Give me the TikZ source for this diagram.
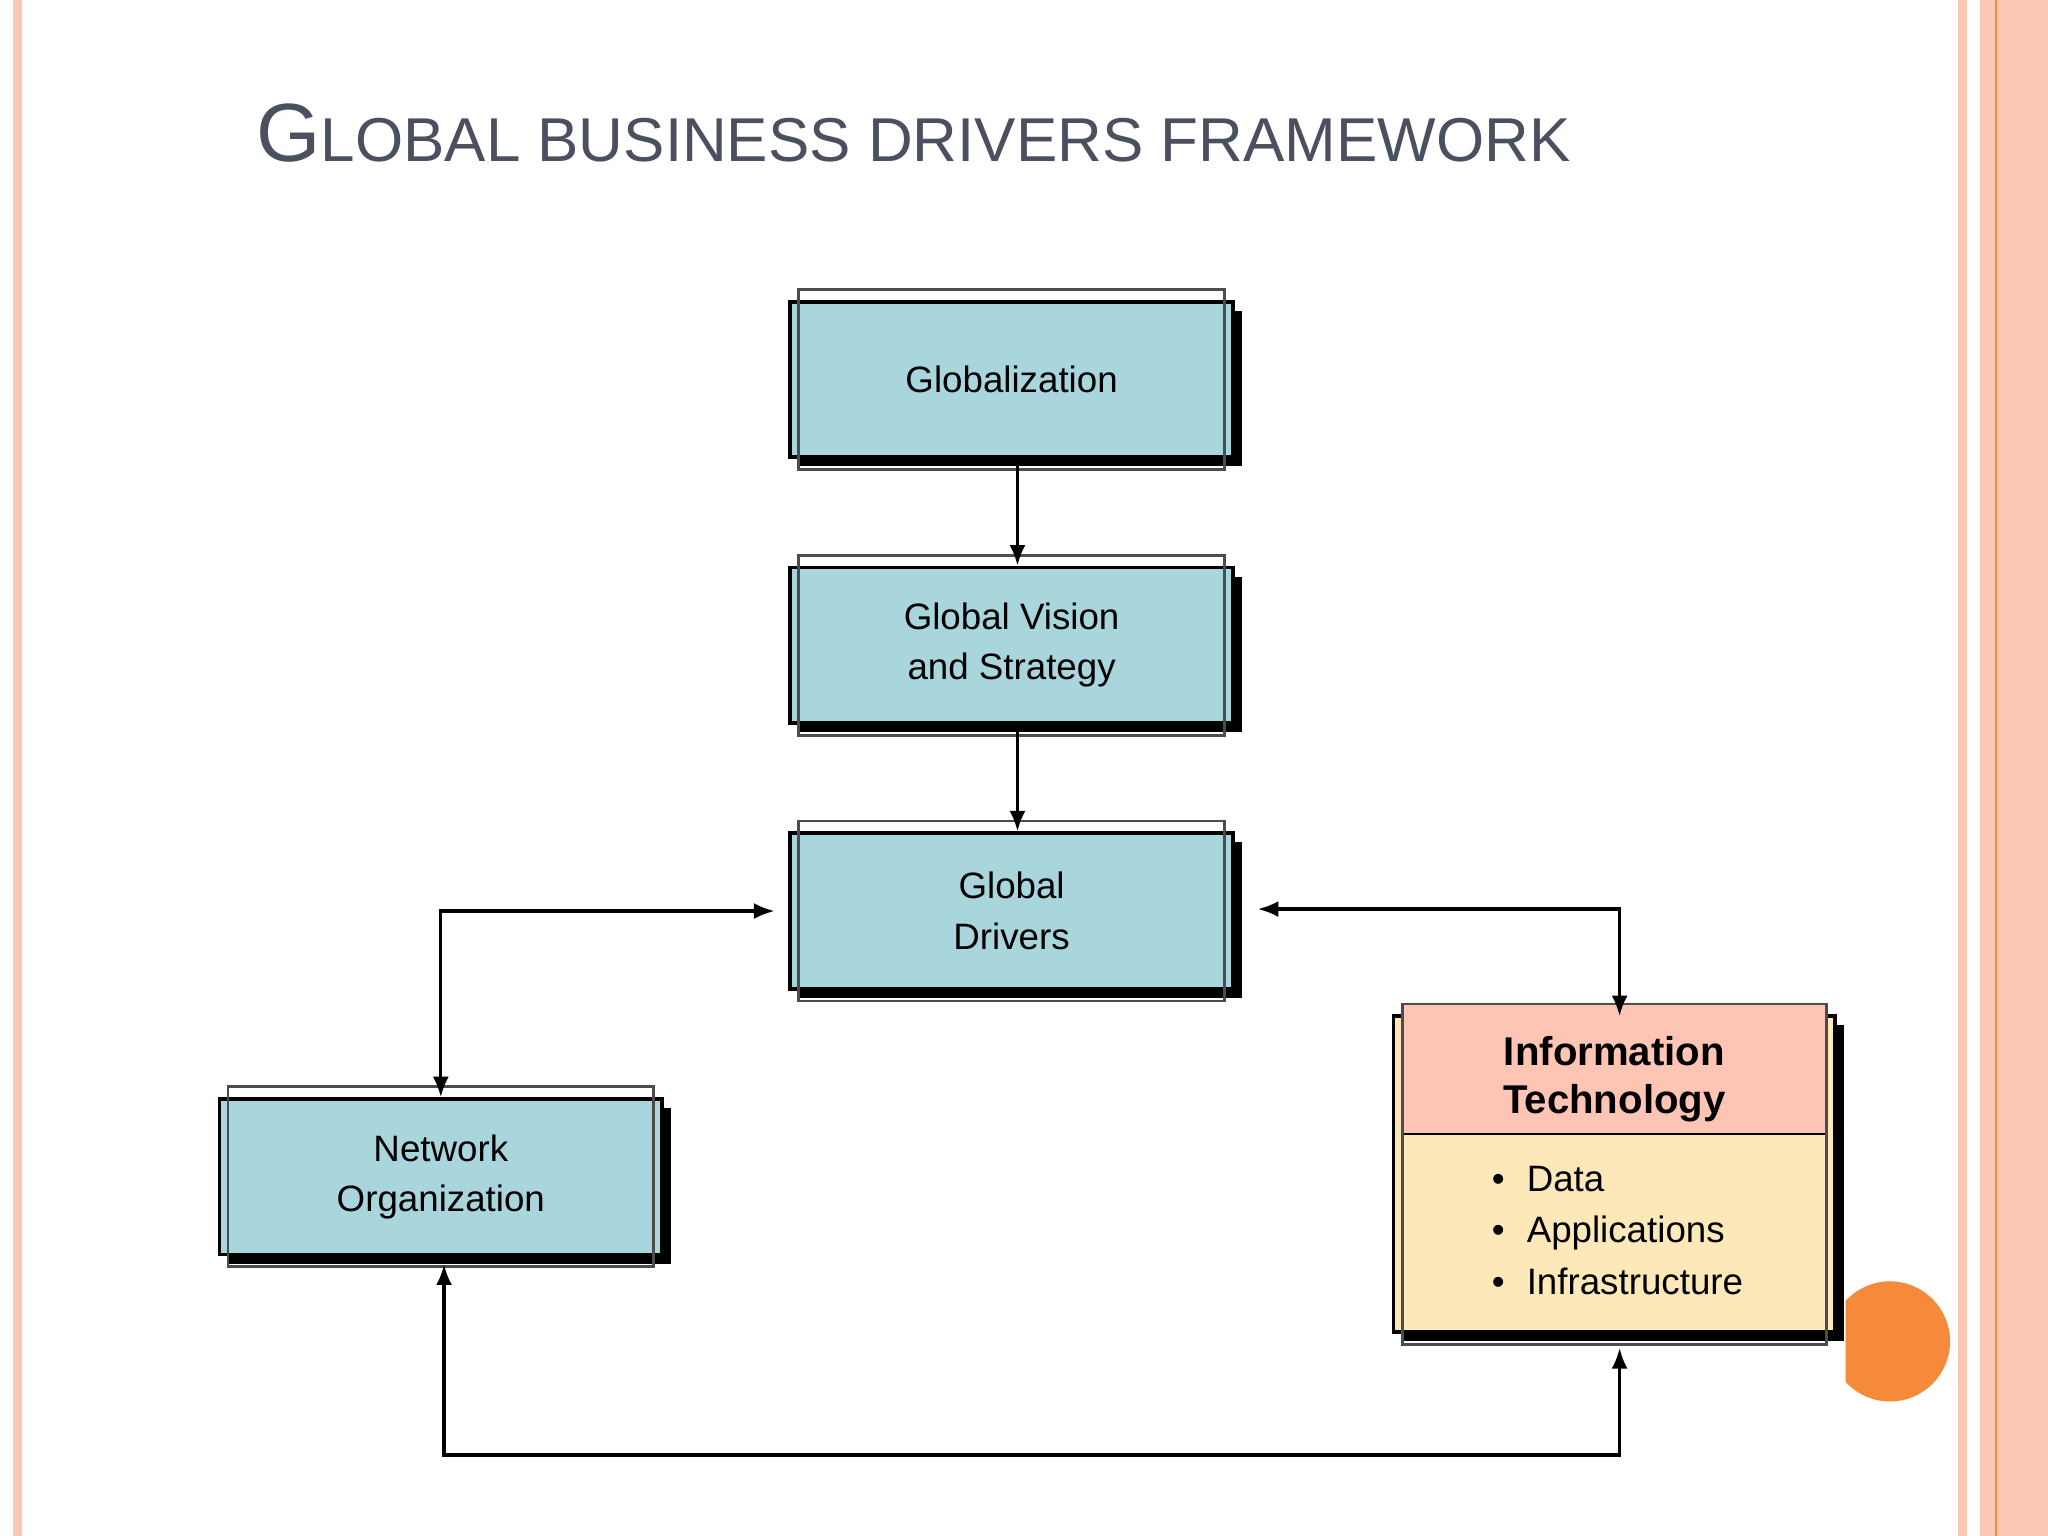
\documentclass[tikz,border=0pt]{standalone}
\usepackage{fontspec}
\setmainfont{Liberation Sans}
\usetikzlibrary{arrows.meta}
\definecolor{boxblue}{HTML}{A9D5DC}
\definecolor{itpink}{HTML}{FEC4B4}
\definecolor{ityellow}{HTML}{FDE8B9}
\definecolor{pinkb}{HTML}{FBC8B4}
\definecolor{orangeb}{HTML}{F58A3B}
\definecolor{titlegray}{HTML}{4A5060}
\tikzset{
  outerbox/.style={draw=black, line width=1.6pt, minimum width=339*0.02cm, minimum height=119*0.02cm, inner sep=0pt, font=\fontsize{16}{22}\selectfont, align=center},
  conn/.style={line width=1.4pt, -{Latex[length=9pt,width=7pt]}},
  conn2/.style={line width=1.4pt, {Latex[length=9pt,width=7pt]}-{Latex[length=9pt,width=7pt]}}
}
\newcommand\shadowbox[4]{% name, x, y(center), text
  \fill[black] ([shift={(7,7)}]#2-169.5,#3-59.5) rectangle ([shift={(7,7)}]#2+169.5,#3+59.5);
  \node[outerbox, fill=boxblue] (#1) at (#2,#3) {#4};
  \draw[line width=1.2pt, draw=black!70] ([shift={(8,-8)}]#1.north west) rectangle ([shift={(-8,8)}]#1.south east);
}
\begin{document}
\begin{tikzpicture}[x=0.02cm,y=-0.02cm]
\fill[white] (0,0) rectangle (1568,1176);
\useasboundingbox (0,0) rectangle (1568,1176);
% borders
\fill[pinkb] (10,0) rectangle (17,1176);
\fill[pinkb] (1499,0) rectangle (1506,1176);
\fill[pinkb] (1516,0) rectangle (1568,1176);
\draw[orangeb, line width=0.8pt] (1528,0) -- (1528,1176);
% title
\node[anchor=base west, text=titlegray, inner sep=0pt] (title) at (196,124)
  {\fontsize{36}{40}\selectfont G\fontsize{27}{30}\selectfont LOBAL BUSINESS DRIVERS FRAMEWORK};
% orange circle
\begin{scope}
\clip (1413,950) rectangle (1500,1100);
\fill[orangeb] (1447,1027) circle (46);
\end{scope}
% boxes
\shadowbox{glob}{774.5}{290.5}{Globalization}
\shadowbox{vis}{774.5}{494}{Global Vision\\and Strategy}
\shadowbox{gd}{774.5}{697.5}{Global\\Drivers}
\shadowbox{net}{337.5}{901}{Network\\Organization}
% IT box
\fill[black] (1074,785) rectangle (1412,1027);
\node[draw=black, line width=1.6pt, fill=ityellow, minimum width=338*0.02cm, minimum height=242*0.02cm, inner sep=0pt] (it) at (1236,899) {};
\fill[itpink] ([shift={(8,-8)}]it.north west) rectangle (1397,868);
\draw[line width=1.2pt, draw=black!70] ([shift={(8,-8)}]it.north west) rectangle ([shift={(-8,8)}]it.south east);
\draw[line width=1pt] (1075,868) -- (1397,868);
\node[font=\bfseries\fontsize{17.5}{21}\selectfont, align=center] (ith) at (1236,826) {Information\\Technology};
\node[font=\fontsize{16}{22.5}\selectfont, align=left, anchor=west] (itl) at (1136,942)
  {\textbullet\hspace{0.6em}Data\\\textbullet\hspace{0.6em}Applications\\\textbullet\hspace{0.6em}Infrastructure};
% connectors
\coordinate (g1) at (779,357);
\coordinate (v1) at (779,557);
\draw[conn] (g1) -- (vis.north -| g1);
\draw[conn] (v1) -- (gd.north -| v1);
\draw[conn2, shorten <=2pt] ([xshift=-4]gd.west) -| (net.north);
\draw[conn2] ([xshift=10]gd.east |- 957,696) -| (1240,778);
\coordinate (nb) at (340,968);
\coordinate (ib) at (1240,1032);
\draw[conn2] (nb) |- (1240,1114) -- (ib);
\end{tikzpicture}
\end{document}
